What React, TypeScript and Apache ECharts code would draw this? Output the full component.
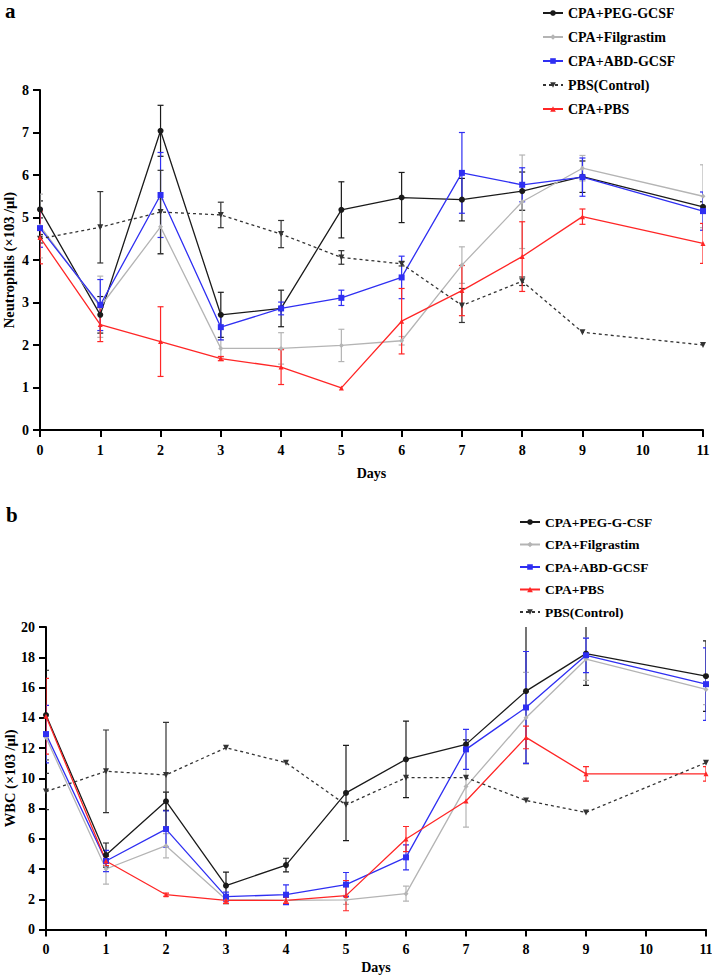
import React, { useEffect, useRef } from "react";
import * as echarts from "echarts";

const FONT = '"Liberation Serif", "Times New Roman", serif';

const days = [0, 1, 2, 3, 4, 5, 6, 7, 8, 9, 11];

// Panel a: Neutrophils
const aPeg = [5.19, 2.71, 7.04, 2.71, 2.86, 5.18, 5.47, 5.42, 5.62, 5.96, 5.25];
const aPegErr = [0.2, 0.43, 0.6, 0.53, 0.43, 0.66, 0.59, 0.5, 0.45, 0.37, 0.12];
const aFil = [4.8, 2.9, 4.78, 1.92, 1.92, 1.99, 2.1, 3.88, 5.37, 6.16, 5.5];
const aFilErr = [0.75, 0.72, 0.65, 0.2, 0.37, 0.38, 0.1, 0.43, 1.1, 0.3, 0.74];
const aAbd = [4.75, 2.94, 5.53, 2.42, 2.86, 3.11, 3.59, 6.05, 5.77, 5.95, 5.15];
const aAbdErr = [0.45, 0.6, 1.0, 0.3, 0.15, 0.18, 0.5, 0.95, 0.4, 0.45, 0.45];
const aCtl = [4.5, 4.77, 5.13, 5.06, 4.61, 4.06, 3.91, 2.93, 3.5, 2.3, 2.0];
const aCtlErr = [0.1, 0.84, 0.98, 0.3, 0.32, 0.16, 0.05, 0.4, 0.1, 0, 0];
const aPbs = [4.53, 2.48, 2.08, 1.68, 1.48, 0.99, 2.56, 3.28, 4.08, 5.02, 4.39];
const aPbsErr = [0.62, 0.4, 0.82, 0.05, 0.41, 0, 0.77, 0.59, 0.82, 0.18, 0.47];

// Panel b: WBC
const bPeg = [14.18, 4.92, 8.48, 2.9, 4.26, 9.03, 11.25, 12.24, 15.76, 18.24, 16.75];
const bPegErr = [2.96, 0.8, 0.6, 0.9, 0.45, 3.15, 2.53, 0.3, 4.8, 2.1, 2.33];
const bFil = [12.7, 4.0, 5.54, 1.98, 1.92, 1.96, 2.37, 9.45, 14.0, 17.87, 15.87];
const bFilErr = [1.5, 1.0, 0.8, 0.3, 0.2, 0.3, 0.5, 2.68, 3.0, 1.4, 1.0];
const bAbd = [12.92, 4.53, 6.64, 2.17, 2.3, 2.97, 4.77, 11.91, 14.68, 18.13, 16.22];
const bAbdErr = [1.9, 0.7, 1.2, 0.3, 0.65, 0.8, 0.83, 1.32, 3.7, 1.14, 2.4];
const bPbs = [14.1, 4.53, 2.3, 1.93, 1.93, 2.24, 5.98, 8.5, 12.7, 10.29, 10.29];
const bPbsErr = [2.5, 0.3, 0.1, 0.2, 0.2, 1.0, 0.83, 0, 0.75, 0.48, 0.48];
const bCtl = [9.12, 10.46, 10.22, 12.02, 11.03, 8.24, 10.04, 10.04, 8.53, 7.74, 11.03];
const bCtlErr = [1.2, 2.73, 3.47, 0, 0, 0, 0, 0, 0, 0, 0];

const legendA = ["CPA+PEG-GCSF", "CPA+Filgrastim", "CPA+ABD-GCSF", "PBS(Control)", "CPA+PBS"];
const legendB = ["CPA+PEG-G-CSF", "CPA+Filgrastim", "CPA+ABD-GCSF", "CPA+PBS", "PBS(Control)"];

const C_BLACK = "#1a1a1a";
const C_GRAY = "#b4b4b4";
const C_BLUE = "#2f2ff2";
const C_RED = "#ff2626";
const C_CTL = "#333333";

type Sty = { color: string; symbol: string; size: number; rotate?: number; dashed?: boolean };
const ST: Record<string, Sty> = {
  peg: { color: C_BLACK, symbol: "circle", size: 6 },
  fil: { color: C_GRAY, symbol: "diamond", size: 5 },
  abd: { color: C_BLUE, symbol: "rect", size: 6 },
  ctl: { color: C_CTL, symbol: "triangle", size: 6, rotate: 180, dashed: true },
  pbs: { color: C_RED, symbol: "triangle", size: 5 },
};

function lineSeries(name: string, idx: number, vals: number[], s: Sty) {
  return {
    type: "line",
    name,
    xAxisIndex: idx,
    yAxisIndex: idx,
    data: days.map((d, i) => [d, vals[i]]),
    symbol: s.symbol,
    symbolSize: s.size,
    symbolRotate: s.rotate || 0,
    itemStyle: { color: s.color },
    lineStyle: { color: s.color, width: 1.3, type: s.dashed ? [3, 3] : "solid" },
    z: 3,
  };
}

function errSeries(name: string, idx: number, vals: number[], errs: number[], s: Sty) {
  return {
    type: "custom",
    name,
    xAxisIndex: idx,
    yAxisIndex: idx,
    clip: true,
    z: 2,
    data: days.map((d, i) => [d, vals[i] - errs[i], vals[i] + errs[i]]),
    encode: { x: 0, y: [1, 2] },
    renderItem: (params: any, api: any) => {
      const x = api.value(0);
      const lo = api.value(1);
      const hi = api.value(2);
      if (hi - lo < 1e-6) return { type: "group", children: [] };
      const t = api.coord([x, hi]);
      const b = api.coord([x, lo]);
      const w = 3;
      const style = { stroke: s.color, lineWidth: 1.2 };
      return {
        type: "group",
        children: [
          { type: "line", shape: { x1: t[0], y1: t[1], x2: b[0], y2: b[1] }, style },
          { type: "line", shape: { x1: t[0] - w, y1: t[1], x2: t[0] + w, y2: t[1] }, style },
          { type: "line", shape: { x1: b[0] - w, y1: b[1], x2: b[0] + w, y2: b[1] }, style },
        ],
      };
    },
  };
}

function xAxis(idx: number, gap: number) {
  return {
    type: "value",
    gridIndex: idx,
    min: 0,
    max: 11,
    interval: 1,
    name: "Days",
    nameLocation: "middle",
    nameGap: gap,
    nameTextStyle: { fontFamily: FONT, fontWeight: "bold", fontSize: 14, color: "#000" },
    axisLine: { lineStyle: { color: "#000", width: 2 } },
    axisTick: { length: 7, lineStyle: { color: "#000", width: 2 } },
    axisLabel: { fontFamily: FONT, fontWeight: "bold", fontSize: 14, color: "#000", margin: 13 },
    splitLine: { show: false },
  };
}

function yAxis(idx: number, max: number, interval: number, name: string, gap: number) {
  return {
    type: "value",
    gridIndex: idx,
    min: 0,
    max,
    interval,
    name,
    nameLocation: "middle",
    nameGap: gap,
    nameMoveOverlap: false,
    nameTextStyle: { fontFamily: FONT, fontWeight: "bold", fontSize: 14.5, color: "#000" },
    axisLine: { show: true, lineStyle: { color: "#000", width: 2 } },
    axisTick: { show: true, length: 7, lineStyle: { color: "#000", width: 2 } },
    axisLabel: { fontFamily: FONT, fontWeight: "bold", fontSize: 14, color: "#000", margin: 11 },
    splitLine: { show: false },
  };
}

export default function App() {
  const ref = useRef<HTMLDivElement>(null);
  useEffect(() => {
    if (!ref.current) return;
    const chart = echarts.init(ref.current, undefined, { renderer: "svg" });
    const legendText = (size: number) => ({
      fontFamily: FONT,
      fontWeight: "bold",
      fontSize: size,
      color: "#000",
      lineHeight: 14,
    });
    chart.setOption({
      animation: false,
      backgroundColor: "#fff",
      grid: [
        { left: 40, top: 90, width: 663, height: 340, outerBoundsMode: "none", containLabel: false },
        { left: 46, top: 627, width: 660, height: 302.5, outerBoundsMode: "none", containLabel: false },
      ],
      xAxis: [xAxis(0, 36), xAxis(1, 31)],
      yAxis: [
        yAxis(0, 8, 1, "Neutrophils (×103 /μl)", 24),
        yAxis(1, 20, 2, "WBC (×103 /μl)", 29),
      ],
      legend: [
        {
          data: legendA,
          orient: "vertical",
          left: 537,
          top: 1,
          itemWidth: 20,
          itemHeight: 7,
          itemGap: 10,
          textStyle: legendText(14),
        },
        {
          data: legendB,
          orient: "vertical",
          left: 514,
          top: 510,
          itemWidth: 20,
          itemHeight: 7,
          itemGap: 8.5,
          textStyle: legendText(13.5),
        },
      ],
      graphic: [
        {
          type: "text",
          left: 5,
          top: 0,
          style: { text: "a", font: `bold 21px ${FONT}`, fill: "#000" },
        },
        {
          type: "text",
          left: 6,
          top: 504,
          style: { text: "b", font: `bold 21px ${FONT}`, fill: "#000" },
        },
      ],
      series: [
        errSeries("errA-peg", 0, aPeg, aPegErr, ST.peg),
        errSeries("errA-fil", 0, aFil, aFilErr, ST.fil),
        errSeries("errA-abd", 0, aAbd, aAbdErr, ST.abd),
        errSeries("errA-ctl", 0, aCtl, aCtlErr, ST.ctl),
        errSeries("errA-pbs", 0, aPbs, aPbsErr, ST.pbs),
        lineSeries(legendA[0], 0, aPeg, ST.peg),
        lineSeries(legendA[1], 0, aFil, ST.fil),
        lineSeries(legendA[2], 0, aAbd, ST.abd),
        lineSeries(legendA[3], 0, aCtl, ST.ctl),
        lineSeries(legendA[4], 0, aPbs, ST.pbs),
        errSeries("errB-peg", 1, bPeg, bPegErr, ST.peg),
        errSeries("errB-fil", 1, bFil, bFilErr, ST.fil),
        errSeries("errB-abd", 1, bAbd, bAbdErr, ST.abd),
        errSeries("errB-pbs", 1, bPbs, bPbsErr, ST.pbs),
        errSeries("errB-ctl", 1, bCtl, bCtlErr, ST.ctl),
        lineSeries(legendB[0], 1, bPeg, ST.peg),
        lineSeries(legendB[1], 1, bFil, ST.fil),
        lineSeries(legendB[2], 1, bAbd, ST.abd),
        lineSeries(legendB[3], 1, bPbs, ST.pbs),
        lineSeries(legendB[4], 1, bCtl, ST.ctl),
      ],
    });
    return () => chart.dispose();
  }, []);
  return (
    <div
      ref={ref}
      style={{ position: "fixed", left: 0, top: 0, width: 712, height: 978, background: "#fff" }}
    />
  );
}
